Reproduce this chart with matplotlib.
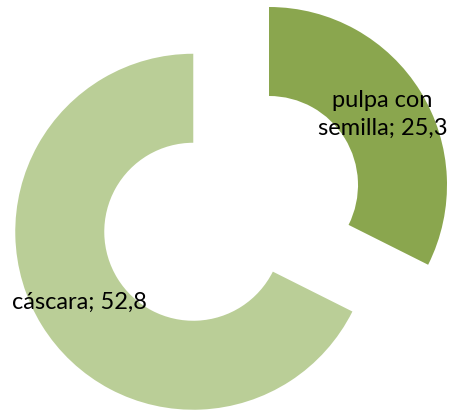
import matplotlib.pyplot as plt

# composición del fruto (%)
partes = ["pulpa con\nsemilla", "cáscara"]
valores = [25.3, 52.8]
colores = ["#8AA64E", "#BACE97"]
separacion = [0.0, 0.5]

plt.rcParams['font.family'] = ['Lato', 'DejaVu Sans']

fig = plt.figure(figsize=(4.54, 4.12), dpi=100)
ax = fig.add_axes([0, 0, 1, 1])

wedges, _, autotexts = ax.pie(
    valores,
    colors=colores,
    explode=separacion,
    startangle=90,
    counterclock=False,
    radius=1.0,
    autopct="%1.1f",
    pctdistance=0.75,
    wedgeprops=dict(width=0.5, linewidth=0),
    textprops=dict(fontsize=17, color="black"),
)

for txt, parte, v in zip(autotexts, partes, valores):
    txt.set_text(f"{parte}; {v:.1f}".replace(".", ","))
    txt.set_linespacing(1.4)

# escala: 1 unidad = 178 px
r = 178
ax.set_xlim(-269 / r, (454 - 269) / r)
ax.set_ylim(-(412 - 185) / r, 185 / r)
ax.set_aspect('auto')
ax.set_axis_off()

fig.savefig("out.png", dpi=100)
